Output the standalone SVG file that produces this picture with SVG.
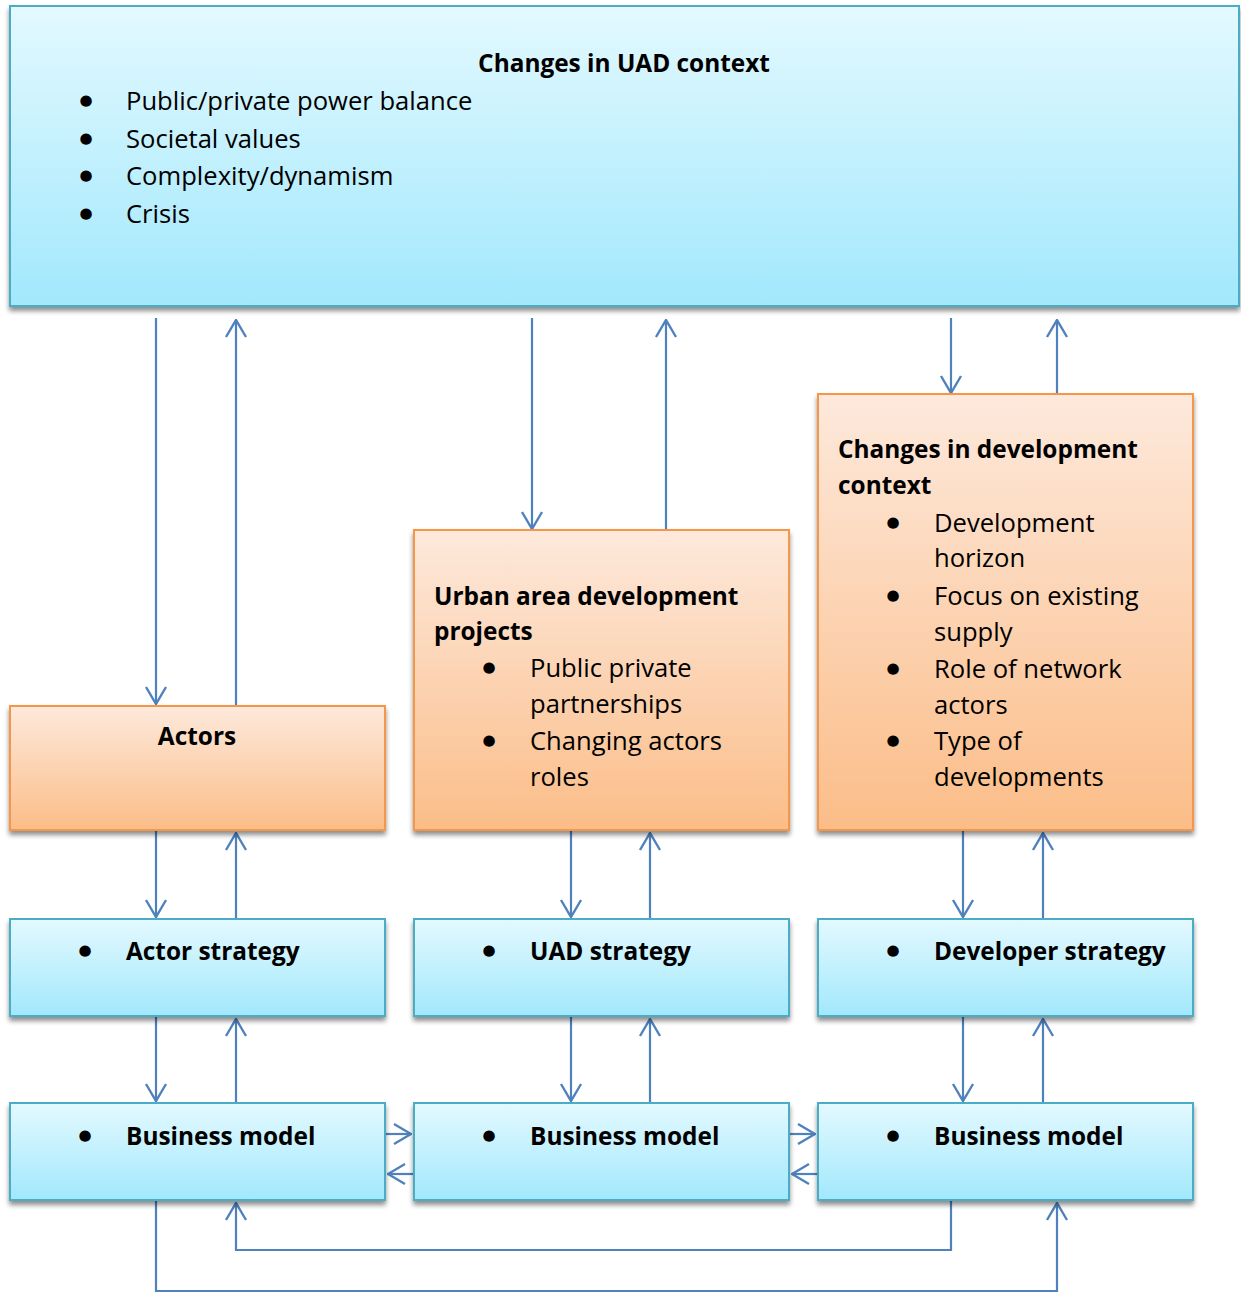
<svg xmlns="http://www.w3.org/2000/svg" width="1241" height="1293" viewBox="0 0 1241 1293">
  <style>
    .t { font-family: "Open Sans", "Liberation Sans", sans-serif; font-size: 25.6px; fill: #000; }
    .b { font-weight: bold; font-size: 24.4px; }
    .dot { font-family: "DejaVu Sans", sans-serif; font-size: 15px; fill: #000; }
    .blue { fill: url(#gBlue); stroke: #4bacc6; stroke-width: 2; filter: url(#shadow); }
    .orange { fill: url(#gOrange); stroke: #f79646; stroke-width: 2; filter: url(#shadow); }
    .c { fill: none; stroke: #4f81bd; stroke-width: 2.2; }
  </style>
  <defs>
    <linearGradient id="gBlue" x1="0" y1="0" x2="0" y2="1">
      <stop offset="0" stop-color="#e3f9ff"/>
      <stop offset="1" stop-color="#a2e8fc"/>
    </linearGradient>
    <linearGradient id="gOrange" x1="0" y1="0" x2="0" y2="1">
      <stop offset="0" stop-color="#fde9dc"/>
      <stop offset="1" stop-color="#fbbd88"/>
    </linearGradient>
    <filter id="shadow" x="-5%" y="-5%" width="110%" height="120%">
      <feGaussianBlur in="SourceAlpha" stdDeviation="2.5"/>
      <feOffset dy="4" result="o"/>
      <feComponentTransfer><feFuncA type="linear" slope="0.45"/></feComponentTransfer>
      <feMerge><feMergeNode/><feMergeNode in="SourceGraphic"/></feMerge>
    </filter>
    <marker id="ah" viewBox="0 0 20 24" refX="19" refY="12" markerWidth="20" markerHeight="24" markerUnits="userSpaceOnUse" orient="auto">
      <path d="M2,2 L19,12 L2,22" fill="none" stroke="#4f81bd" stroke-width="2.4"/>
    </marker>
  </defs>

  <!-- connectors -->
  <g id="connectors">
    <line class="c" x1="156" y1="318" x2="156" y2="704" marker-end="url(#ah)"/>
    <line class="c" x1="236" y1="705" x2="236" y2="320" marker-end="url(#ah)"/>
    <line class="c" x1="532" y1="318" x2="532" y2="529" marker-end="url(#ah)"/>
    <line class="c" x1="666" y1="530" x2="666" y2="320" marker-end="url(#ah)"/>
    <line class="c" x1="951" y1="318" x2="951" y2="393" marker-end="url(#ah)"/>
    <line class="c" x1="1057" y1="394" x2="1057" y2="320" marker-end="url(#ah)"/>

    <line class="c" x1="156" y1="831" x2="156" y2="917" marker-end="url(#ah)"/>
    <line class="c" x1="236" y1="918" x2="236" y2="833" marker-end="url(#ah)"/>
    <line class="c" x1="571" y1="831" x2="571" y2="917" marker-end="url(#ah)"/>
    <line class="c" x1="650" y1="918" x2="650" y2="833" marker-end="url(#ah)"/>
    <line class="c" x1="963" y1="831" x2="963" y2="917" marker-end="url(#ah)"/>
    <line class="c" x1="1043" y1="918" x2="1043" y2="833" marker-end="url(#ah)"/>

    <line class="c" x1="156" y1="1017" x2="156" y2="1101" marker-end="url(#ah)"/>
    <line class="c" x1="236" y1="1102" x2="236" y2="1019" marker-end="url(#ah)"/>
    <line class="c" x1="571" y1="1017" x2="571" y2="1101" marker-end="url(#ah)"/>
    <line class="c" x1="650" y1="1102" x2="650" y2="1019" marker-end="url(#ah)"/>
    <line class="c" x1="963" y1="1017" x2="963" y2="1101" marker-end="url(#ah)"/>
    <line class="c" x1="1043" y1="1102" x2="1043" y2="1019" marker-end="url(#ah)"/>

    <line class="c" x1="386" y1="1134" x2="411" y2="1134" marker-end="url(#ah)"/>
    <line class="c" x1="413" y1="1174" x2="388" y2="1174" marker-end="url(#ah)"/>
    <line class="c" x1="790" y1="1134" x2="815" y2="1134" marker-end="url(#ah)"/>
    <line class="c" x1="817" y1="1174" x2="792" y2="1174" marker-end="url(#ah)"/>

    <polyline class="c" points="951,1201 951,1250 236,1250 236,1203" marker-end="url(#ah)"/>
    <polyline class="c" points="156,1201 156,1291 1057,1291 1057,1203" marker-end="url(#ah)"/>
  </g>

  <!-- context box -->
  <g id="uad-context">
    <rect class="blue" x="10" y="6" width="1229" height="300"/>
    <text class="t b" x="624" y="72" text-anchor="middle">Changes in UAD context</text>
    <text class="dot" x="86" y="105" text-anchor="middle">●</text><text class="t" x="126" y="110">Public/private power balance</text>
    <text class="dot" x="86" y="143" text-anchor="middle">●</text><text class="t" x="126" y="148">Societal values</text>
    <text class="dot" x="86" y="180" text-anchor="middle">●</text><text class="t" x="126" y="185">Complexity/dynamism</text>
    <text class="dot" x="86" y="218" text-anchor="middle">●</text><text class="t" x="126" y="223">Crisis</text>
  </g>

  <g id="actors">
    <rect class="orange" x="10" y="706" width="375" height="124"/>
    <text class="t b" x="197" y="745" text-anchor="middle">Actors</text>
  </g>

  <g id="uad-projects">
    <rect class="orange" x="414" y="530" width="375" height="300"/>
    <text class="t b" x="434" y="605">Urban area development</text>
    <text class="t b" x="434" y="640">projects</text>
    <text class="dot" x="489" y="672" text-anchor="middle">●</text><text class="t" x="530" y="677">Public private</text>
    <text class="t" x="530" y="713">partnerships</text>
    <text class="dot" x="489" y="745" text-anchor="middle">●</text><text class="t" x="530" y="750">Changing actors</text>
    <text class="t" x="530" y="786">roles</text>
  </g>

  <g id="development-context">
    <rect class="orange" x="818" y="394" width="375" height="436"/>
    <text class="t b" x="838" y="458">Changes in development</text>
    <text class="t b" x="838" y="494">context</text>
    <text class="dot" x="893" y="527" text-anchor="middle">●</text><text class="t" x="934" y="532">Development</text>
    <text class="t" x="934" y="567">horizon</text>
    <text class="dot" x="893" y="600" text-anchor="middle">●</text><text class="t" x="934" y="605">Focus on existing</text>
    <text class="t" x="934" y="641">supply</text>
    <text class="dot" x="893" y="673" text-anchor="middle">●</text><text class="t" x="934" y="678">Role of network</text>
    <text class="t" x="934" y="714">actors</text>
    <text class="dot" x="893" y="745" text-anchor="middle">●</text><text class="t" x="934" y="750">Type of</text>
    <text class="t" x="934" y="786">developments</text>
  </g>

  <g id="actor-strategy">
    <rect class="blue" x="10" y="919" width="375" height="97"/>
    <text class="dot" x="85" y="955" text-anchor="middle">●</text><text class="t b" x="126" y="960">Actor strategy</text>
  </g>
  <g id="uad-strategy">
    <rect class="blue" x="414" y="919" width="375" height="97"/>
    <text class="dot" x="489" y="955" text-anchor="middle">●</text><text class="t b" x="530" y="960">UAD strategy</text>
  </g>
  <g id="developer-strategy">
    <rect class="blue" x="818" y="919" width="375" height="97"/>
    <text class="dot" x="893" y="955" text-anchor="middle">●</text><text class="t b" x="934" y="960">Developer strategy</text>
  </g>

  <g id="business-model-actor">
    <rect class="blue" x="10" y="1103" width="375" height="97"/>
    <text class="dot" x="85" y="1140" text-anchor="middle">●</text><text class="t b" x="126" y="1145">Business model</text>
  </g>
  <g id="business-model-uad">
    <rect class="blue" x="414" y="1103" width="375" height="97"/>
    <text class="dot" x="489" y="1140" text-anchor="middle">●</text><text class="t b" x="530" y="1145">Business model</text>
  </g>
  <g id="business-model-developer">
    <rect class="blue" x="818" y="1103" width="375" height="97"/>
    <text class="dot" x="893" y="1140" text-anchor="middle">●</text><text class="t b" x="934" y="1145">Business model</text>
  </g>
</svg>
